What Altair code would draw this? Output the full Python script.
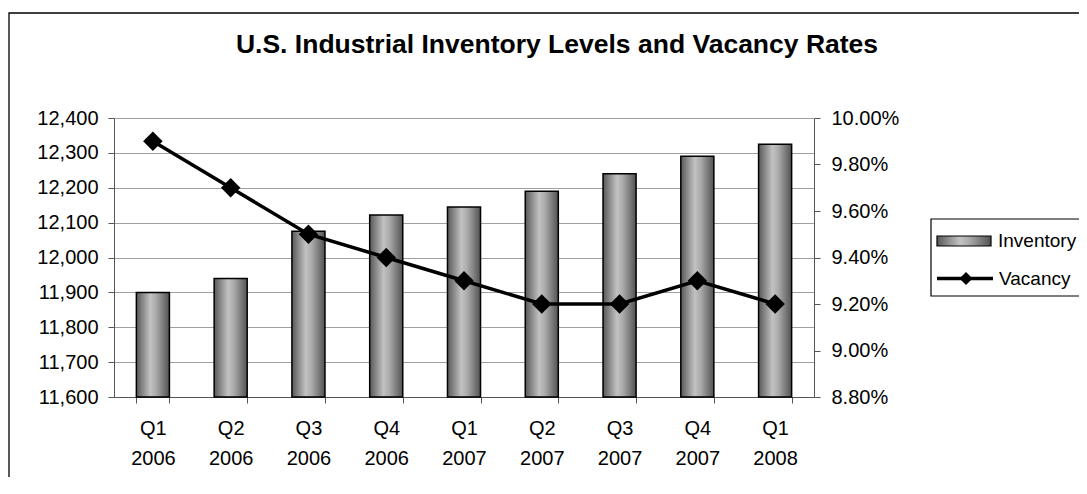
import altair as alt
import pandas as pd

# ---- data ----
quarters = ["Q1 2006", "Q2 2006", "Q3 2006", "Q4 2006", "Q1 2007",
            "Q2 2007", "Q3 2007", "Q4 2007", "Q1 2008"]
inventory = [11900, 11940, 12075, 12122, 12145, 12190, 12240, 12290, 12325]
vacancy = [0.099, 0.097, 0.095, 0.094, 0.093, 0.092, 0.092, 0.093, 0.092]
inv_ticks = [11600, 11700, 11800, 11900, 12000, 12100, 12200, 12300, 12400]
vac_ticks = [0.088, 0.090, 0.092, 0.094, 0.096, 0.098, 0.100]
title_text = ["U.S. Industrial Inventory Levels and Vacancy Rates"]
legend_labels = ["Inventory", "Vacancy"]

df = pd.DataFrame({"Quarter": quarters, "Inventory": inventory, "Vacancy": vacancy})
one = pd.DataFrame({"k": [0]})

FONT = "Liberation Sans"
W, H = 700, 279
AXC = "#555555"

bar_fill = alt.Gradient(
    gradient="linear",
    stops=[alt.GradientStop(color="#585858", offset=0),
           alt.GradientStop(color="#c2c2c2", offset=0.42),
           alt.GradientStop(color="#aaaaaa", offset=0.6),
           alt.GradientStop(color="#525252", offset=1)],
    x1=0, x2=1, y1=0, y2=0,
)

x_enc = alt.X(
    "Quarter:N", sort=quarters,
    scale=alt.Scale(paddingInner=0.575, paddingOuter=0.2875),
    axis=alt.Axis(title=None, labelAngle=0, labelExpr="split(datum.label, ' ')",
                  labelFont=FONT, labelFontSize=20, labelColor="black",
                  labelLineHeight=30, labelPadding=15, labelBaseline="top",
                  tickSize=6, tickColor=AXC, domainColor=AXC, tickBand="extent",
                  grid=False),
)

bars = alt.Chart(df).mark_bar(fill=bar_fill, stroke="black", strokeWidth=1.5).encode(
    x=x_enc,
    y=alt.Y("Inventory:Q",
            scale=alt.Scale(domain=[11600, 12400], zero=False, nice=False),
            axis=alt.Axis(title=None, values=inv_ticks, format=",.0f",
                          labelFont=FONT, labelFontSize=20, labelColor="black",
                          labelPadding=10, tickSize=6, tickColor=AXC,
                          domainColor=AXC, grid=True, gridColor="#a0a0a0",
                          gridWidth=1)),
    y2=alt.datum(11600),
)

line = alt.Chart(df).mark_line(
    color="black", strokeWidth=3.5,
    point=alt.OverlayMarkDef(shape="diamond", size=380, filled=True, color="black"),
).encode(
    x=alt.X("Quarter:N", sort=quarters),
    y=alt.Y("Vacancy:Q",
            scale=alt.Scale(domain=[0.088, 0.100], zero=False, nice=False),
            axis=alt.Axis(title=None, orient="right", values=vac_ticks, format=".2%",
                          labelFont=FONT, labelFontSize=20, labelColor="black",
                          labelPadding=11, tickSize=6, tickColor=AXC,
                          domainColor=AXC, grid=False)),
)

main = alt.layer(bars, line).resolve_scale(y="independent")

# outer frame
frame = alt.Chart(one).mark_rect(fillOpacity=0, stroke="black", strokeWidth=1.3).encode(
    x=alt.value(-105), x2=alt.value(990), y=alt.value(-105), y2=alt.value(400))

title = alt.Chart(one).mark_text(
    text=title_text[0], font=FONT, fontSize=26.5, fontWeight="bold",
    align="center", baseline="middle", color="black",
).encode(x=alt.value(443), y=alt.value(-73))

# legend
leg_box = alt.Chart(one).mark_rect(fill="white", stroke="black", strokeWidth=1.2).encode(
    x=alt.value(817), x2=alt.value(990), y=alt.value(101), y2=alt.value(178))
leg_bar = alt.Chart(one).mark_rect(fill=bar_fill, stroke="black", strokeWidth=1.2).encode(
    x=alt.value(823), x2=alt.value(877), y=alt.value(118), y2=alt.value(128))
leg_t1 = alt.Chart(one).mark_text(
    text=legend_labels[0], font=FONT, fontSize=19, align="left", baseline="middle",
    color="black").encode(x=alt.value(884), y=alt.value(123))
leg_rule = alt.Chart(one).mark_rule(color="black", strokeWidth=3.5).encode(
    x=alt.value(823), x2=alt.value(879), y=alt.value(160.5))
leg_pt = alt.Chart(one).mark_point(shape="diamond", filled=True, color="black",
                                   size=170, opacity=1).encode(
    x=alt.value(852), y=alt.value(160.5))
leg_t2 = alt.Chart(one).mark_text(
    text=legend_labels[1], font=FONT, fontSize=19, align="left", baseline="middle",
    color="black").encode(x=alt.value(885), y=alt.value(160.5))

chart = alt.layer(
    frame, main, title, leg_box, leg_bar, leg_t1, leg_rule, leg_pt, leg_t2
).resolve_scale(y="independent").properties(
    width=W, height=H,
    padding={"left": 106, "top": 110, "right": 265, "bottom": 80},
    autosize=alt.AutoSizeParams(type="none"),
    background="white",
).configure_view(stroke=None)

chart.save("out.html", embed_options={"renderer": "svg", "actions": False})
